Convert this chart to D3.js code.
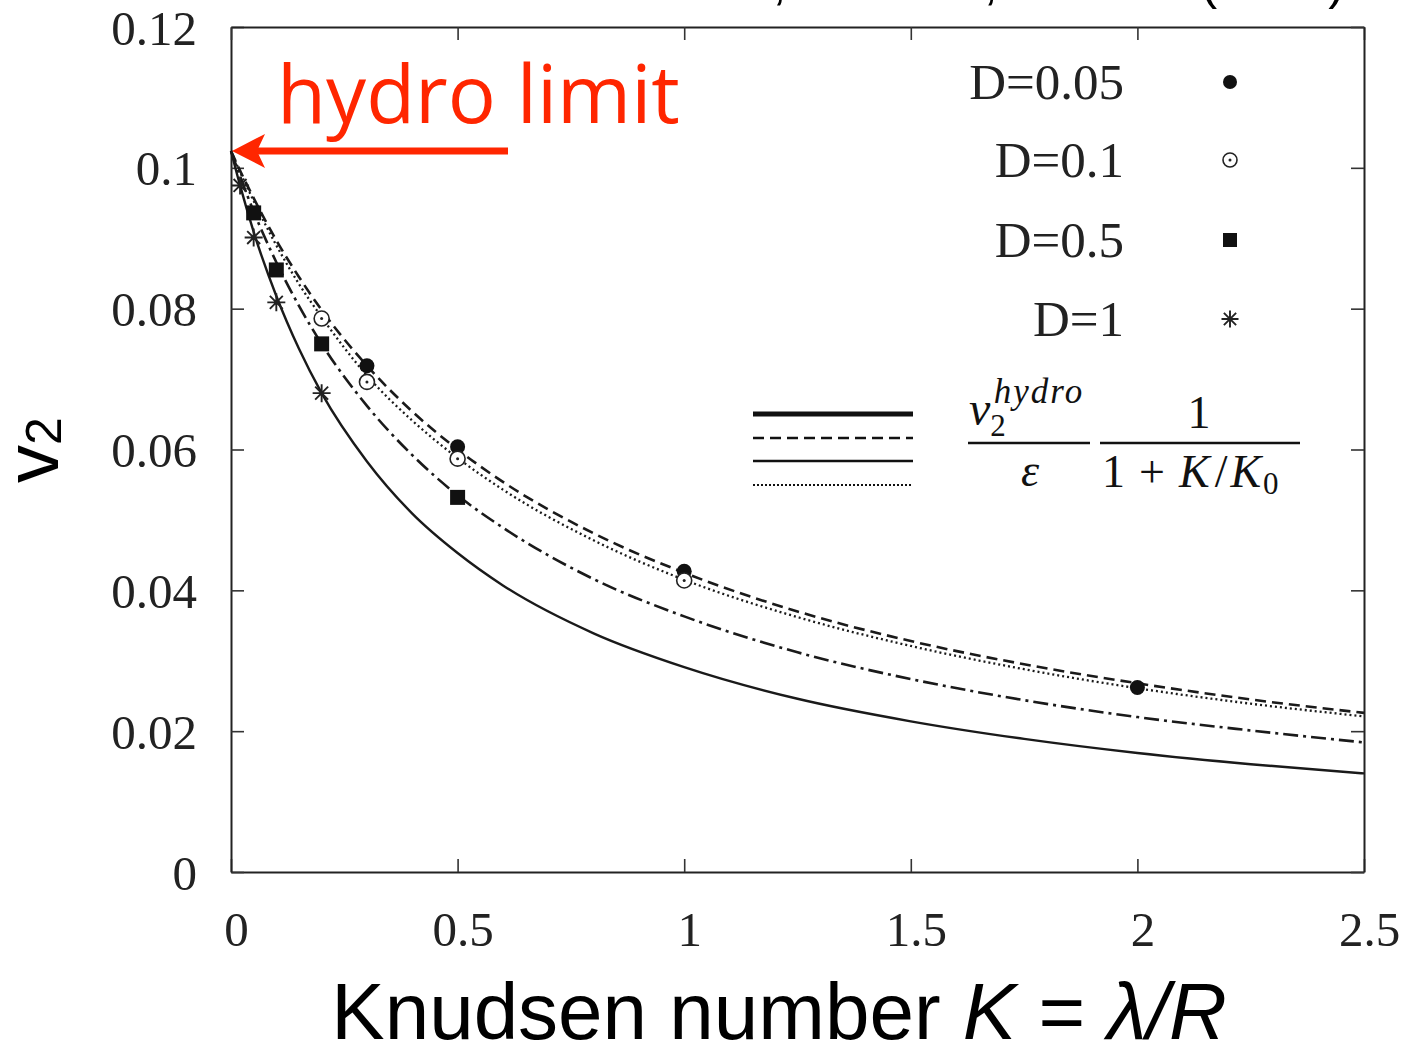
<!DOCTYPE html>
<html>
<head>
<meta charset="utf-8">
<script src="https://cdn.jsdelivr.net/npm/d3@7"></script>
<style>
  body { margin: 0; background: #fff; }
  .tick text { font-family: "Liberation Serif", serif; font-size: 49px; fill: #222; }
</style>
</head>
<body>
<div id="chart-area"></div>
<script>
// data
var kGrid = [0, 0.02, 0.05, 0.1, 0.15, 0.2, 0.3, 0.4, 0.5, 0.6, 0.8, 1.0, 1.25, 1.5, 1.75, 2.0, 2.25, 2.5];

var curveD005 = [0.1024, 0.0996, 0.0957, 0.0897, 0.0845, 0.0798, 0.0719, 0.0654, 0.0600, 0.0554, 0.0481, 0.0425, 0.0370, 0.0328, 0.0295, 0.0268, 0.0245, 0.0226];
var curveD01  = [0.1024, 0.0994, 0.0953, 0.0890, 0.0835, 0.0788, 0.0705, 0.0641, 0.0588, 0.0543, 0.0471, 0.0415, 0.0362, 0.0321, 0.0288, 0.0261, 0.0239, 0.0221];
var curveD05  = [0.1024, 0.0988, 0.0938, 0.0866, 0.0804, 0.0750, 0.0662, 0.0592, 0.0535, 0.0489, 0.0416, 0.0363, 0.0312, 0.0274, 0.0244, 0.0220, 0.0201, 0.0184];
var curveD1   = [0.1024, 0.0975, 0.0909, 0.0818, 0.0743, 0.0680, 0.0583, 0.0509, 0.0453, 0.0407, 0.0339, 0.0291, 0.0246, 0.0214, 0.0189, 0.0169, 0.0153, 0.0140];

var ptsD005K = [0.3, 0.5, 1, 2];
var ptsD005V = [0.0719, 0.0604, 0.0427, 0.0262];
var ptsD01K  = [0.2, 0.3, 0.5, 1];
var ptsD01V  = [0.0786, 0.0696, 0.0587, 0.0414];
var ptsD05K  = [0.05, 0.1, 0.2, 0.5];
var ptsD05V  = [0.0936, 0.0855, 0.0750, 0.0532];
var ptsD1K   = [0.02, 0.05, 0.1, 0.2];
var ptsD1V   = [0.0975, 0.0901, 0.0809, 0.0680];

var legendNames = ["D=0.05", "D=0.1", "D=0.5", "D=1"];

var xTicks = [0, 0.5, 1, 1.5, 2, 2.5];
var xTickLabels = ["0", "0.5", "1", "1.5", "2", "2.5"];
var yTicks = [0, 0.02, 0.04, 0.06, 0.08, 0.1, 0.12];
var yTickLabels = ["0", "0.02", "0.04", "0.06", "0.08", "0.1", "0.12"];

var hydroLimit = 0.1024;

var W = 1403, H = 1050;
var margin = { left: 231, right: 39, top: 27, bottom: 178 };
var width = W - margin.left - margin.right,
    height = H - margin.top - margin.bottom;

var svg = d3.select("#chart-area")
    .append("svg")
        .attr("width", W)
        .attr("height", H);

var g = svg.append("g")
    .attr("transform", "translate(" + margin.left + "," + margin.top + ")");

var x = d3.scaleLinear().domain([0, 2.5]).range([0, width]);
var y = d3.scaleLinear().domain([0, 0.12]).range([height, 0]);

// axes, ticks pointing inward on all four sides
var xAxisCall = d3.axisBottom(x).tickValues(xTicks)
    .tickFormat(function(d, i){ return xTickLabels[i]; })
    .tickSizeInner(-13).tickSizeOuter(0).tickPadding(39);
var yAxisCall = d3.axisLeft(y).tickValues(yTicks)
    .tickFormat(function(d, i){ return yTickLabels[i]; })
    .tickSizeInner(-13).tickSizeOuter(0).tickPadding(34);
var xTopCall = d3.axisTop(x).tickValues(xTicks).tickFormat("")
    .tickSizeInner(-13).tickSizeOuter(0);
var yRightCall = d3.axisRight(y).tickValues(yTicks).tickFormat("")
    .tickSizeInner(-13).tickSizeOuter(0);

var xAxisGroup = g.append("g").attr("transform", "translate(0," + height + ")").call(xAxisCall);
var yAxisGroup = g.append("g").call(yAxisCall);
var xTopGroup = g.append("g").call(xTopCall);
var yRightGroup = g.append("g").attr("transform", "translate(" + width + ",0)").call(yRightCall);

[xAxisGroup, yAxisGroup, xTopGroup, yRightGroup].forEach(function(a){
    a.select(".domain").attr("stroke", "#222").attr("stroke-width", 2);
    a.selectAll(".tick line").attr("stroke", "#333").attr("stroke-width", 1.6);
});
xAxisGroup.selectAll(".tick text").attr("dx", 5);
yAxisGroup.selectAll(".tick text").attr("dy", "0.35em");

// fit curves
var line = d3.line()
    .x(function(d){ return x(d[0]); })
    .y(function(d){ return y(d[1]); })
    .curve(d3.curveMonotoneX);

var curves = [
    { v: curveD005, dash: "11,6", w: 2.6 },
    { v: curveD01,  dash: "2,3",  w: 2.3 },
    { v: curveD05,  dash: "15,5,3,5", w: 2.6 },
    { v: curveD1,   dash: null,   w: 2.4 }
];

curves.forEach(function(c){
    g.append("path")
        .datum(kGrid.map(function(k, i){ return [k, c.v[i]]; }))
        .attr("fill", "none")
        .attr("stroke", "#1a1a1a")
        .attr("stroke-width", c.w)
        .attr("stroke-dasharray", c.dash)
        .attr("d", line);
});

// marker drawers
function starPath(s){
    var a = s, b = s * 0.72;
    return "M" + (-a) + ",0L" + a + ",0M0," + (-a) + "L0," + a +
           "M" + (-b) + "," + (-b) + "L" + b + "," + b +
           "M" + (-b) + "," + b + "L" + b + "," + (-b);
}

function drawMarker(sel, type, size){
    if (type === 0) {
        sel.append("circle").attr("r", size).attr("fill", "#111");
    } else if (type === 1) {
        sel.append("circle").attr("r", size).attr("fill", "#fff")
            .attr("stroke", "#222").attr("stroke-width", 1.6);
        sel.append("circle").attr("r", 1.5).attr("fill", "#222");
    } else if (type === 2) {
        sel.append("rect").attr("x", -size).attr("y", -size)
            .attr("width", 2 * size).attr("height", 2 * size).attr("fill", "#111");
    } else {
        sel.append("path").attr("d", starPath(size + 1.5))
            .attr("stroke", "#222").attr("stroke-width", 1.9).attr("fill", "none");
    }
}

var pointSets = [
    { k: ptsD005K, v: ptsD005V, size: 7.5 },
    { k: ptsD01K,  v: ptsD01V,  size: 7.5 },
    { k: ptsD05K,  v: ptsD05V,  size: 7.5 },
    { k: ptsD1K,   v: ptsD1V,   size: 7.5 }
];

pointSets.forEach(function(p, t){
    p.k.forEach(function(k, i){
        var m = g.append("g").attr("transform", "translate(" + x(k) + "," + y(p.v[i]) + ")");
        drawMarker(m, t, p.size);
    });
});

// legend
var legendY = [82, 160, 240, 319];
legendNames.forEach(function(name, i){
    svg.append("text")
        .attr("x", 1124).attr("y", legendY[i] + 17)
        .attr("text-anchor", "end")
        .attr("font-family", "Liberation Serif, serif")
        .attr("font-size", "51px")
        .attr("fill", "#222")
        .text(name);
    var m = svg.append("g").attr("transform", "translate(1230," + legendY[i] + ")");
    drawMarker(m, i, 7);
});

// line-style legend and formula
var styleLines = [
    { y: 414, w: 5, dash: null },
    { y: 438, w: 2.4, dash: "11,6" },
    { y: 461, w: 2.4, dash: null },
    { y: 485, w: 2, dash: "2,2" }
];
styleLines.forEach(function(s){
    svg.append("line")
        .attr("x1", 753).attr("x2", 913)
        .attr("y1", s.y).attr("y2", s.y)
        .attr("stroke", "#111").attr("stroke-width", s.w)
        .attr("stroke-dasharray", s.dash);
});

var mathFont = "Liberation Serif, serif";
var f1 = svg.append("text").attr("x", 969).attr("y", 425)
    .attr("font-family", mathFont).attr("font-size", "48px").attr("fill", "#111");
f1.append("tspan").attr("font-style", "italic").text("v");
f1.append("tspan").attr("font-size", "31px").attr("dy", 11).text("2");
f1.append("tspan").attr("font-size", "35px").attr("font-style", "italic")
    .attr("dx", -12).attr("dy", -33).attr("letter-spacing", 2).text("hydro");

svg.append("line").attr("x1", 968).attr("x2", 1090).attr("y1", 443).attr("y2", 443)
    .attr("stroke", "#111").attr("stroke-width", 2.5);
svg.append("text").attr("x", 1030).attr("y", 486).attr("text-anchor", "middle")
    .attr("font-family", mathFont).attr("font-size", "46px").attr("font-style", "italic")
    .attr("fill", "#111").text("ε");

svg.append("text").attr("x", 1199).attr("y", 428).attr("text-anchor", "middle")
    .attr("font-family", mathFont).attr("font-size", "46px").attr("fill", "#111").text("1");
svg.append("line").attr("x1", 1100).attr("x2", 1300).attr("y1", 443).attr("y2", 443)
    .attr("stroke", "#111").attr("stroke-width", 2.5);
var f2 = svg.append("text").attr("x", 1102).attr("y", 487)
    .attr("font-family", mathFont).attr("font-size", "46px").attr("fill", "#111");
f2.append("tspan").text("1");
f2.append("tspan").attr("dx", 14).text("+");
f2.append("tspan").attr("dx", 14).attr("font-style", "italic").text("K");
f2.append("tspan").attr("dx", 5).text("/");
f2.append("tspan").attr("dx", 3).attr("font-style", "italic").text("K");
f2.append("tspan").attr("dx", 2).attr("font-size", "31px").attr("dy", 7).text("0");

// hydro limit annotation
var red = "#ff2600";
svg.append("text")
    .attr("x", 277).attr("y", 123)
    .attr("font-family", "Open Sans, sans-serif")
    .attr("font-size", "80px")
    .attr("fill", red)
    .text("hydro limit");

var ax = x(0) + margin.left, ay = y(hydroLimit) + margin.top;
svg.append("line")
    .attr("x1", ax + 25).attr("x2", 508)
    .attr("y1", ay).attr("y2", ay)
    .attr("stroke", red).attr("stroke-width", 7);
svg.append("path")
    .attr("d", "M" + (ax + 1) + "," + ay + "L" + (ax + 34) + "," + (ay - 17) +
               "L" + (ax + 26) + "," + ay + "L" + (ax + 34) + "," + (ay + 17) + "Z")
    .attr("fill", red);

// axis titles
var yLabel = svg.append("text")
    .attr("transform", "translate(58,450) rotate(-90)")
    .attr("text-anchor", "middle")
    .attr("font-family", "Liberation Sans, Arial, sans-serif")
    .attr("font-size", "76px")
    .attr("fill", "#000");
yLabel.append("tspan").text("v");
yLabel.append("tspan").attr("font-size", "50px").attr("dy", 3).text("2");

var xLabel = svg.append("text")
    .attr("x", 779).attr("y", 1039)
    .attr("text-anchor", "middle")
    .attr("font-family", "Liberation Sans, Arial, sans-serif")
    .attr("font-size", "80px")
    .attr("fill", "#000");
xLabel.append("tspan").text("Knudsen number ");
xLabel.append("tspan").attr("font-style", "italic").text("K");
xLabel.append("tspan").text(" = ");
xLabel.append("tspan").attr("font-style", "italic").text("λ/R");

// caption cut off at the top edge
svg.append("text")
    .attr("x", 1345).attr("y", -1)
    .attr("text-anchor", "end")
    .attr("font-family", "Liberation Sans, Arial, sans-serif")
    .attr("font-size", "50px")
    .attr("fill", "#000")
    .text("Gombeaud, Ollitrault, PRC 77 (2008)");
</script>
</body>
</html>
